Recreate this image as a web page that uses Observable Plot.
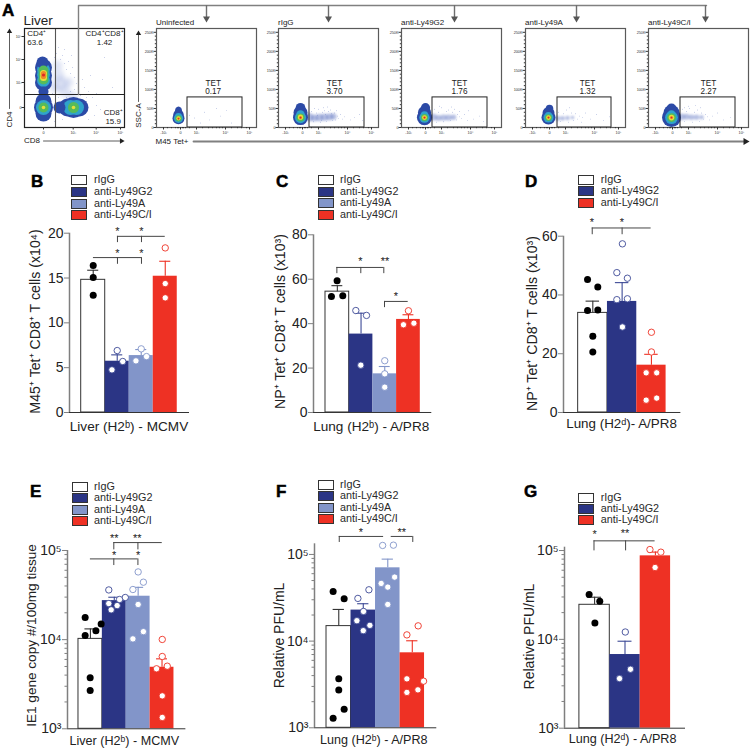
<!DOCTYPE html>
<html><head><meta charset="utf-8">
<script src="https://cdn.jsdelivr.net/npm/d3@7"></script>
<script src="https://cdn.jsdelivr.net/npm/@observablehq/plot@0.6"></script>
<style>
html,body{margin:0;padding:0;background:#fff}
#page{position:relative;width:750px;height:748px;overflow:hidden;font-family:"Liberation Sans",Arial,sans-serif;color:#222}
#page svg{position:absolute;overflow:visible;background:transparent;font-family:"Liberation Sans",Arial,sans-serif}
.letter{position:absolute;font-weight:700;font-size:17px;line-height:17px;color:#000;-webkit-text-stroke:.5px #000}
.lg{position:absolute;font-size:10.8px;line-height:11px;white-space:nowrap;color:#2a2a2a}
.sw{position:absolute;width:14px;height:8px;border:.8px solid #333;box-sizing:content-box}
</style></head><body><div id="page"></div>
<script>
// ---------- bar chart data ----------
const fourGroups = ["rIgG","anti-Ly49G2","anti-Ly49A","anti-Ly49C/I"];
const threeGroups = ["rIgG","anti-Ly49G2","anti-Ly49C/I"];

const bBars=[14.8,5.72,6.35,15.2], bErr=[15.87,6.43,7.02,16.87];
const bPts=[[.5,16.4],[.5,15.05],[.5,13.08],[1.5,6.91],[1.73,5.69],[1.28,4.76],[2.5,7.1],[2.72,6.24],[2.28,5.76],[3.5,18.36],[3.5,14.38],[3.5,12.79]];
const bH=[[1.51,3.5,19.65],[.51,2.51,17.28]], bV=[[1.51,19.65,18.95],[2.51,19.65,18.95],[1.51,17.28,16.53],[2.51,17.28,16.53]];
const bStars=[[1.51,20.4,"*"],[2.51,20.4,"*"],[1.51,18,"*"],[2.51,18,"*"]];

const cBars=[54.4,35.3,17.4,41.9], cErr=[57.1,44.7,20.7,44];
const cPts=[[.49,59.3],[.25,52.25],[.73,52.6],[1.28,45.9],[1.73,43.7],[1.49,21.3],[2.5,23.3],[2.5,17.4],[2.5,11.4],[3.5,45.8],[3.29,39.5],[3.73,40.2]];
const cH=[[.48,2.46,65.3],[2.49,3.49,50]], cV=[[.48,65.3,62.5],[1.49,65.3,62.5],[2.46,65.3,62.5],[2.49,50,47.2]];
const cStars=[[1.47,68.8,"*"],[2.51,68.8,"**"],[2.97,53.2,"*"]];

const dBars=[33.9,37.8,16.1], dErr=[37.9,44.2,19.8];
const dPts=[[.32,45.3],[.67,42.7],[.32,34.7],[.67,34.9],[.5,25.95],[.5,20.6],[1.51,57.4],[1.32,47.6],[1.68,45.7],[1.32,38.4],[1.68,38.7],[1.51,29.1],[2.5,27.3],[2.5,20.6],[2.32,13.5],[2.68,13.5],[2.32,4.2],[2.68,4.9]];
const dH=[[.48,2.49,62.8]], dV=[[.48,62.8,60.5],[1.5,62.8,60.5]];
const dStars=[[.47,65.3,"*"],[1.49,65.3,"*"]];

const eBars=[10200,27400,30700,4900], eErr=[13200,29900,38600,6090];
const ePts=[[.28,17700],[.95,15000],[.73,12600],[.28,11100],[.49,3730],[.49,2690],[1.27,36100],[1.96,29700],[1.72,28200],[1.27,25400],[1.62,24100],[1.37,21600],[2.5,57500],[2.72,44100],[2.28,36500],[2.5,24800],[2.72,12300],[2.28,10200],[3.51,10050],[3.51,6470],[3.72,5040],[3.27,4710],[3.51,2340],[3.51,1340]];
const eH=[[1.48,3.51,122700],[.5,2.49,80500]], eV=[[1.48,122700,101600],[2.49,122700,101600],[1.48,80500,67800],[2.49,80500,67800]];
const eStars=[[1.5,143000,"**"],[2.46,143000,"**"],[1.49,91600,"*"],[2.5,91600,"*"]];

const fBars=[14900,22800,70100,7330], fErr=[23200,27000,88300,10090];
const fPts=[[.27,37400],[.72,30800],[.5,3670],[.5,2720],[.72,1640],[.27,1290],[1.73,39100],[1.28,31100],[1.51,22000],[1.24,17200],[1.77,15200],[1.5,13200],[2.29,127000],[2.73,128000],[2.78,54800],[2.23,46300],[2.5,42000],[2.5,26500],[3.74,15000],[3.28,11800],[3.28,3670],[3.96,3450],[3.73,2740],[3.28,2560]];
const fH=[[.52,2.33,161300],[2.64,3.52,161300]], fV=[[.52,161300,137500],[3.52,161300,137500]];
const fStars=[[1.4,189200,"*"],[3.07,189200,"**"]];

const gBars=[24500,6750,87100], gErr=[29800,9530,96000];
const gPts=[[.32,32000],[.67,26900],[.51,15300],[1.51,12100],[1.68,4610],[1.32,3620],[2.32,102600],[2.68,95800],[2.49,64400]];
const gH=[[.48,2.49,128500]], gV=[[.48,128500,99100],[1.52,128500,99100]];
const gStars=[[.5,160000,"*"],[1.5,165000,"**"]];

const groupFill={"rIgG":"#ffffff","anti-Ly49G2":"#2b3585","anti-Ly49A":"#8295c9","anti-Ly49C/I":"#ee3124"};
const groupLine={"rIgG":"#333333","anti-Ly49G2":"#3d4a96","anti-Ly49A":"#8295c9","anti-Ly49C/I":"#ee3124"};

// ---------- layout of bar panels ----------
const charts=[
 {letter:"B",letterAt:[31,173],groups:fourGroups,bars:bBars,err:bErr,pts:bPts,H:bH,V:bV,stars:bStars,
  axisX:69,axisEnd:189,axisTop:232.7,axisBottom:412,svgTop:215,svgBottom:445,yDomain:[0,20],yTicks:[0,5,10,15,20],xDomain:[-.4875,4.51],
  yLabel:"M45⁺ Tet⁺ CD8⁺ T cells (x10⁴)",yLabelX:35,yLabelCy:321,yLabelSize:14.2,xLabel:"Liver (H2ᵇ) - MCMV",xLabelAt:1.99,xLabelDy:14,xLabelSize:13.6,lgX:71.3,lgTextX:94,lgY:[179.7,191.3,203,214.3]},
 {letter:"C",letterAt:[276,173],groups:fourGroups,bars:cBars,err:cErr,pts:cPts,H:cH,V:cV,stars:cStars,
  axisX:312.7,axisEnd:431,axisTop:234.3,axisBottom:412,svgTop:215,svgBottom:445,yDomain:[0,80],yTicks:[0,20,40,60,80],xDomain:[-.506,4.485],
  yLabel:"NP⁺ Tet⁺ CD8⁺ T cells (x10³)",yLabelX:280,yLabelCy:321,yLabelSize:14.2,xLabel:"Lung (H2ᵇ) - A/PR8",xLabelAt:1.93,xLabelDy:14,xLabelSize:13.6,lgX:318,lgTextX:340,lgY:[179.7,191,202.7,214]},
 {letter:"D",letterAt:[525,173],groups:threeGroups,bars:dBars,err:dErr,pts:dPts,H:dH,V:dV,stars:dStars,
  axisX:563.3,axisEnd:680.7,axisTop:235.7,axisBottom:412,svgTop:215,svgBottom:445,yDomain:[0,60],yTicks:[0,20,40,60],xDomain:[-.5,3.505],
  yLabel:"NP⁺ Tet⁺ CD8⁺ T cells (x10³)",yLabelX:532,yLabelCy:323,yLabelSize:14.2,xLabel:"Lung (H2ᵈ)- A/PR8",xLabelAt:1.48,xLabelDy:11,xLabelSize:13.4,lgX:578.3,lgTextX:600.7,lgY:[179.3,190.7,202]},
 {letter:"E",letterAt:[30,483],groups:fourGroups,bars:eBars,err:eErr,pts:ePts,H:eH,V:eV,stars:eStars,log:true,
  axisX:67.3,axisEnd:185.7,axisTop:550,axisBottom:728.3,svgTop:530,svgBottom:748,yDomain:[1000,100000],yTicks:[1000,10000,100000],xDomain:[-.46,4.5],
  yLabel:"IE1 gene copy #/100mg tissue",yLabelX:31,yLabelCy:635,yLabelSize:13.6,xLabel:"Liver (H2ᵇ) - MCMV",xLabelAt:1.92,xLabelDy:12.4,xLabelSize:12.6,lgX:71.7,lgTextX:94,lgY:[486.3,497.7,509,520.7]},
 {letter:"F",letterAt:[276,483],groups:fourGroups,bars:fBars,err:fErr,pts:fPts,H:fH,V:fV,stars:fStars,log:true,
  axisX:313.7,axisEnd:436,axisTop:543.3,axisBottom:727.3,svgTop:520,svgBottom:748,yDomain:[1000,132700],yTicks:[1000,10000,100000],xDomain:[-.49,4.5],
  yLabel:"Relative PFU/mL",yLabelX:279,yLabelCy:635,yLabelSize:14,xLabel:"Lung (H2ᵇ) - A/PR8",xLabelAt:1.93,xLabelDy:11.7,xLabelSize:12.6,lgX:317.7,lgTextX:340,lgY:[484,495.7,507,518.7]},
 {letter:"G",letterAt:[524,483],groups:threeGroups,bars:gBars,err:gErr,pts:gPts,H:gH,V:gV,stars:gStars,log:true,
  axisX:563.7,axisEnd:684.7,axisTop:546.7,axisBottom:727.7,svgTop:520,svgBottom:748,yDomain:[1000,109000],yTicks:[1000,10000,100000],xDomain:[-.49,3.49],
  yLabel:"Relative PFU/mL",yLabelX:529,yLabelCy:636,yLabelSize:14,xLabel:"Lung (H2ᵈ) - A/PR8",xLabelAt:1.42,xLabelDy:11,xLabelSize:12.6,lgX:578.3,lgTextX:600.7,lgY:[497,508.3,519.7]}
];
const logMinor=[2000,3000,4000,5000,6000,7000,8000,9000,20000,30000,40000,50000,60000,70000,80000,90000];
const sup={1000:"10³",10000:"10⁴",100000:"10⁵"};

const page=document.getElementById("page");
function place(svg,left,top){svg.style.left=left+"px";svg.style.top=top+"px";page.appendChild(svg);}

for(const c of charts){
  const left=c.axisX-50, right=c.axisEnd+15, base=c.yDomain[0];
  const rows=c.groups.map((g,i)=>({g,i,v:c.bars[i],e:c.err[i]}));
  const frameMid=(c.axisTop+c.axisBottom)/2;
  const isCtl=d=>c.groups[Math.floor(d[0])]==="rIgG";
  const marks=[
    Plot.rect(rows,{x1:d=>d.i,x2:d=>d.i+1,y1:()=>base,y2:"v",fill:d=>groupFill[d.g],stroke:d=>d.g==="rIgG"?"#333":"none",strokeWidth:1}),
    Plot.ruleX(rows,{x:d=>d.i+.5,y1:"v",y2:"e",stroke:d=>groupLine[d.g],strokeWidth:1.1}),
    Plot.ruleY(rows,{y:"e",x1:d=>d.i+.27,x2:d=>d.i+.73,stroke:d=>groupLine[d.g],strokeWidth:1.1}),
    Plot.dot(c.pts.filter(isCtl),{x:d=>d[0],y:d=>d[1],r:3.5,fill:"#000"}),
    Plot.dot(c.pts.filter(d=>!isCtl(d)),{x:d=>d[0],y:d=>d[1],r:3.2,fill:"#fff",stroke:d=>groupLine[c.groups[Math.floor(d[0])]],strokeWidth:.9}),
    Plot.ruleX([c.xDomain[0]],{stroke:"#7f7f7f",strokeWidth:1.5}),
    Plot.ruleY([base],{stroke:"#333",strokeWidth:1}),
    Plot.axisY({ticks:c.yTicks,tickSize:5,tickPadding:1,stroke:"#7f7f7f",fill:"#222",fontSize:14,label:null,tickFormat:c.log?d=>sup[d]:d=>String(d)}),
    Plot.ruleY(c.H,{x1:d=>d[0],x2:d=>d[1],y:d=>d[2],stroke:"#444",strokeWidth:1}),
    Plot.ruleX(c.V,{x:d=>d[0],y1:d=>d[1],y2:d=>d[2],stroke:"#444",strokeWidth:1}),
    Plot.text(c.stars,{x:d=>d[0],y:d=>d[1],text:d=>d[2],fontSize:11,fill:"#222",dy:2}),
    Plot.text([c.xLabel],{x:()=>c.xLabelAt,y:()=>base,dy:c.xLabelDy,fontSize:c.xLabelSize,fill:"#222"}),
    Plot.text([c.yLabel],{frameAnchor:"left",textAnchor:"middle",rotate:-90,dx:c.yLabelX-c.axisX,dy:c.yLabelCy-frameMid,fontSize:c.yLabelSize,fill:"#222"})
  ];
  if(c.log) marks.push(Plot.axisY({ticks:logMinor,tickSize:2.5,tickFormat:()=>"",stroke:"#7f7f7f",label:null}));
  const svg=Plot.plot({
    width:right-left,height:c.svgBottom-c.svgTop,
    marginLeft:50,marginRight:15,marginTop:c.axisTop-c.svgTop,marginBottom:c.svgBottom-c.axisBottom,
    x:{domain:c.xDomain,axis:null},
    y:{type:c.log?"log":"linear",domain:c.yDomain,label:null},
    marks
  });
  place(svg,left,c.svgTop);
  // panel letter and legend
  const L=document.createElement("div");L.className="letter";L.textContent=c.letter;L.style.left=c.letterAt[0]+"px";L.style.top=c.letterAt[1]+"px";page.appendChild(L);
  c.groups.forEach((g,i)=>{
    const s=document.createElement("div");s.className="sw";s.style.left=c.lgX+"px";s.style.top=(c.lgY[i]-4.5)+"px";s.style.background=groupFill[g];page.appendChild(s);
    const t=document.createElement("div");t.className="lg";t.textContent=g;t.style.left=c.lgTextX+"px";t.style.top=(c.lgY[i]-5.5)+"px";page.appendChild(t);
  });
}

// ---------- flow cytometry panels (x = display channel, y = SSC-A in thousands) ----------
const palette=["#2c4aa6","#2fa3cc","#55bb5a","#e6df3a","#f08a2a","#dd2a26"];
const uninfBlob=[[22,24,6,0],[22,34,5.2,0],[22,45,3.4,0],[22,50,2,0],[22,24,4.6,1],[22,29,3.4,1],[22,24,3.2,2],[22,24,2.1,3],[22,24,1.2,4],[22,23,.7,5]];
const rigBlob=[[22,26,7.5,0],[22,39,7,0],[22,52,4.8,0],[22,26,5.6,1],[22,34,4.2,1],[22,26,4,2],[22,27,2.6,3],[22,26,1.5,4],[22,26,.9,5]];
const g2Blob=[[23,26,7.6,0],[23,39,6.6,0],[24,52,4.6,0],[23,26,5.2,1],[23,33,3.8,1],[23,26,3.6,2],[23,26,2.4,3],[23,26,1.4,4],[23,26,.8,5]];
const aBlob=[[23,26,7,0],[23,38,6,0],[24,50,3.8,0],[23,26,5,1],[23,32,3.4,1],[23,26,3.4,2],[23,26,2.3,3],[23,26,1.3,4],[23,26,.8,5]];
const ciBlob=[[23,26,9.5,0],[23,38,8,0],[23,50,5,0],[23,26,6.4,1],[23,33,4.6,1],[23,26,4.4,2],[23,26,2.8,3],[23,26,1.6,4],[23,26,.8,5]];

const uninfTail=[];
const rigTail=[[31,27,4.2],[36,25,3.6],[41,26,3.8],[46,27,3.8],[51,28,3.6],[55,29,3.2]];
const g2Tail=[[32,27,3.4],[37,25,3],[42,26,3.2],[47,26,3.2],[52,27,2.8]];
const aTail=[[32,24,2.6],[37,24,2.4],[42,25,2.2],[47,26,1.8]];
const ciTail=[[33,28,3.4],[38,28,3],[43,27,2.8],[48,27,2.6],[53,27,2.2]];

const uninfSpecks=[[48,40],[60,50],[53,20],[64,30],[75,12],[38,25],[44,12],[70,45],[33,32]];
const rigSpecks=[[33,42],[35,15],[38,38],[40,48],[42,14],[44,40],[46,44],[48,16],[50,42],[52,46],[54,18],[56,38],[57,20],[59,30],[60,24],[62,34],[64,22],[36,50],[45,52],[49,54],[66,28],[72,20],[76,26],[81,34],[84,18],[58,44],[43,19],[53,36],[39,32],[47,34]];
const g2Specks=[[33,48],[35,14],[37,40],[40,52],[42,15],[45,42],[47,46],[49,18],[51,40],[53,48],[55,20],[56,34],[58,28],[60,24],[63,34],[67,44],[72,22],[78,30],[82,16],[38,56],[50,54],[58,42],[66,18]];
const aSpecks=[[33,40],[35,16],[38,36],[41,46],[43,14],[46,38],[48,18],[50,36],[52,22],[54,30],[57,26],[60,38],[65,22],[71,34],[78,18],[84,28],[44,52],[56,14]];
const ciSpecks=[[34,48],[36,16],[38,42],[41,50],[44,14],[46,40],[49,46],[51,16],[53,38],[55,22],[57,34],[59,28],[61,20],[64,30],[69,38],[75,20],[82,26],[40,56],[52,52],[36,52],[47,58]];

const flowPanels=[
 {name:"Uninfected",tet:"0.17",frame:156,gate:[31,86],tetX:56.7,blob:uninfBlob,tail:uninfTail,specks:uninfSpecks},
 {name:"rIgG",tet:"3.70",frame:278,gate:[31,86],tetX:56,blob:rigBlob,tail:rigTail,specks:rigSpecks},
 {name:"anti-Ly49G2",tet:"1.76",frame:401,gate:[31,86],tetX:58,blob:g2Blob,tail:g2Tail,specks:g2Specks},
 {name:"anti-Ly49A",tet:"1.32",frame:525,gate:[32,86],tetX:62,blob:aBlob,tail:aTail,specks:aSpecks},
 {name:"anti-Ly49C/I",tet:"2.27",frame:648,gate:[32,87],tetX:60,blob:ciBlob,tail:ciTail,specks:ciSpecks}
];
const sscTicks=[0,50,100,150,200,250];
const sscLabels=["0","50K","100K","150K","200K","250K"];
const sscMinor=[10,20,30,40,60,70,80,90,110,120,130,140,160,170,180,190,210,220,230,240];
const tetTickAt=[7,24,40,69,93];
const tetTickLabels=["-10³","0","10³","10⁴","10⁵"];
const tetMinor=[11,15,19,21,22,26,27,29,33,46,52,56,60,63,66,75,81,85,90];
const gateTopK=79;

flowPanels.forEach((p,idx)=>{
  const svg=Plot.plot({
    width:130,height:124,marginLeft:26,marginRight:4,marginTop:8,marginBottom:17,
    x:{domain:[0,100],axis:null},
    y:{domain:[0,260],axis:null},
    r:{type:"identity"},
    marks:[
      Plot.dot(p.specks,{x:d=>d[0],y:d=>d[1],r:.45,fill:"#4a62b8",fillOpacity:.6}),
      Plot.dot(p.tail,{x:d=>d[0],y:d=>d[1],r:d=>d[2],fill:"#5069bd",fillOpacity:.42,imageFilter:"blur(1px)"}),
      Plot.dot(p.blob,{x:d=>d[0],y:d=>d[1],r:d=>d[2],fill:d=>palette[d[3]],imageFilter:"blur(.5px)"}),
      Plot.rect([p.gate],{x1:d=>d[0],x2:d=>d[1],y1:()=>0,y2:()=>gateTopK,fill:"none",stroke:"#222",strokeWidth:1}),
      Plot.frame({stroke:"#5a5a5a",strokeWidth:1.2}),
      Plot.axisY({ticks:sscTicks,tickSize:2.5,tickPadding:.5,fontSize:3.8,stroke:"#333",fill:"#333",label:null,tickFormat:d=>sscLabels[sscTicks.indexOf(d)]}),
      Plot.axisY({ticks:sscMinor,tickSize:1.2,tickFormat:()=>"",stroke:"#333",label:null}),
      Plot.axisX({ticks:tetTickAt,tickSize:2.5,tickPadding:1.5,fontSize:3.8,stroke:"#333",fill:"#333",label:null,tickFormat:d=>tetTickLabels[tetTickAt.indexOf(d)]}),
      Plot.axisX({ticks:tetMinor,tickSize:1.2,tickFormat:()=>"",stroke:"#333",label:null}),
      Plot.text([p.name],{x:()=>0,y:()=>260,dy:-6,dx:-.5,textAnchor:"start",fontSize:8,fill:"#222"}),
      Plot.text(["TET"],{x:()=>p.tetX,y:()=>116,fontSize:8.2,fill:"#222"}),
      Plot.text([p.tet],{x:()=>p.tetX,y:()=>95,fontSize:8.2,fill:"#222"})
    ]
  });
  place(svg,p.frame-26,20);
});

// ---------- liver gating plot (both axes in display channels) ----------
const liverBlob=[[19,36,5,0],[19,20,9.5,0],[19,26,8,0],[19,14,8,0],[18,65,6,0],[19,60,8.5,0],[19,52,8.5,0],[19,45,8.5,0],
 [49,20,10.5,0],[43,20,9,0],[55,20,9,0],[35,20,6,0],
 [19,58,6.5,1],[19,53,6.5,1],[19,47,6.5,1],[19,20,7.5,1],[46,20,7.5,1],[52,20,7.5,1],
 [19,57,5,2],[19,53,5,2],[19,48,5,2],[19,20,5,2],[49,20,5.5,2],
 [19,54,3.5,3],[19,50,3.5,3],[19,20,1.8,3],[49,20,1.8,3],[19,54,2.6,4],[19,51,2.6,4],[19,52.5,1.6,5]];
const liverCloud=[[33,62,5],[34,52,6],[36,44,7],[40,36,6],[44,45,5],[48,30,6],[30,40,5]];
const liverSpecks=[[30,70],[32,74],[36,68],[38,72],[40,64],[42,58],[44,66],[46,54],[48,60],[50,50],[52,44],[50,38],[54,36],[56,32],[58,48],[60,40],[62,30],[64,36],[68,30],[72,34],[40,78],[34,80],[47,72],[54,62],[66,52],[28,34],[34,30],[42,30],[46,36],[72,22],[76,18],[70,12],[64,8],[38,8],[30,6],[62,26],[80,70],[88,40],[78,48]];
const liverQuadX=31, liverQuadY=33;
const liverXTicks=[19,48.7,71.7,96], liverXLabels=["0","10³","10⁴","10⁵"];
const liverYTicks=[20,45,68,91], liverYLabels=["0","10³","10⁴","10⁵"];
const liverNotesLeft=[{x:2.7,y:94,t:"CD4⁺"},{x:2.7,y:85.5,t:"63.6"}];
const liverNotesMid=[{x:80,y:94,t:"CD4⁺CD8⁺"},{x:80,y:85.5,t:"1.42"},{x:88.7,y:15,t:"CD8⁺"},{x:88.7,y:6.3,t:"15.9"}];
place(Plot.plot({
  width:114,height:124,marginLeft:10,marginRight:4,marginTop:8,marginBottom:17,
  x:{domain:[0,100],axis:null},y:{domain:[0,99],axis:null},r:{type:"identity"},
  marks:[
    Plot.dot(liverCloud,{x:d=>d[0],y:d=>d[1],r:d=>d[2],fill:"#6f84cc",fillOpacity:.22,imageFilter:"blur(2px)"}),
    Plot.dot(liverSpecks,{x:d=>d[0],y:d=>d[1],r:.45,fill:"#4a62b8",fillOpacity:.6}),
    Plot.dot(liverBlob,{x:d=>d[0],y:d=>d[1],r:d=>d[2],fill:d=>palette[d[3]],imageFilter:"blur(.6px)"}),
    Plot.ruleX([liverQuadX],{stroke:"#555",strokeWidth:1.1}),
    Plot.ruleY([liverQuadY],{stroke:"#222",strokeWidth:1}),
    Plot.frame({stroke:"#222",strokeWidth:1.2}),
    Plot.axisY({ticks:liverYTicks,tickSize:2.5,tickPadding:.5,fontSize:3.8,stroke:"#333",fill:"#333",label:null,tickFormat:d=>liverYLabels[liverYTicks.indexOf(d)]}),
    Plot.axisX({ticks:liverXTicks,tickSize:2.5,tickPadding:1.5,fontSize:3.8,stroke:"#333",fill:"#333",label:null,tickFormat:d=>liverXLabels[liverXTicks.indexOf(d)]}),
    Plot.text(liverNotesLeft,{x:"x",y:"y",text:"t",textAnchor:"start",fontSize:8,fill:"#222"}),
    Plot.text(liverNotesMid,{x:"x",y:"y",text:"t",textAnchor:"middle",fontSize:8,fill:"#222"})
  ]
}),14,20);

// ---------- page-level connectors and axis captions ----------
const connector=[[78,94],[78,5],[706,5]];
const arrowStems=[206,328,454,576,705];
const bottomLine=[[193,141],[745,141]];
const cd8Arrow=[[43,140.5],[121,140.5]];
const cd4Arrow=[[9,108],[9,31]];
const sscArrow=[[138,101],[138,33]];
const captions=[
 {x:23,y:20,t:"Liver",s:13.5,a:"start"},{x:23.5,y:140,t:"CD8",s:8,a:"start"},{x:155,y:141,t:"M45 Tet+",s:8,a:"start"},
 {x:9,y:119,t:"CD4",s:8,a:"middle",r:-90},{x:138,y:115,t:"SSC-A",s:8,a:"middle",r:-90}
];
const line=(pts,opts)=>Plot.line(pts,{x:d=>d[0],y:d=>d[1],...opts});
place(Plot.plot({
  width:750,height:160,margin:0,
  x:{domain:[0,750],range:[0,750],axis:null},y:{domain:[0,160],range:[0,160],axis:null},
  marks:[
    line(connector,{stroke:"#808080",strokeWidth:1.4}),
    Plot.ruleX(arrowStems,{y1:()=>5,y2:()=>17,stroke:"#6e6e6e",strokeWidth:1.4}),
    Plot.dot(arrowStems,{x:d=>d,y:()=>18,symbol:"triangle",rotate:180,r:2.6,fill:"#555"}),
    line(bottomLine,{stroke:"#808080",strokeWidth:1.8}),
    Plot.dot(bottomLine.slice(1),{x:d=>d[0],y:d=>d[1],symbol:"triangle",rotate:90,r:2.6,fill:"#222"}),
    line(cd8Arrow,{stroke:"#333",strokeWidth:.8}),
    Plot.dot(cd8Arrow.slice(1),{x:d=>d[0],y:d=>d[1],symbol:"triangle",rotate:90,r:2,fill:"#222"}),
    line(cd4Arrow,{stroke:"#333",strokeWidth:.8}),
    Plot.dot(cd4Arrow.slice(1),{x:d=>d[0],y:d=>d[1],symbol:"triangle",r:2,fill:"#222"}),
    line(sscArrow,{stroke:"#333",strokeWidth:.8}),
    Plot.dot(sscArrow.slice(1),{x:d=>d[0],y:d=>d[1],symbol:"triangle",r:2,fill:"#222"}),
    ...captions.map(c=>Plot.text([c.t],{x:()=>c.x,y:()=>c.y,fontSize:c.s,textAnchor:c.a,rotate:c.r||0,fill:"#222"}))
  ]
}),0,0);
// panel A letter
const A=document.createElement("div");A.className="letter";A.textContent="A";A.style.left="2px";A.style.top="2px";page.appendChild(A);
</script></body></html>
